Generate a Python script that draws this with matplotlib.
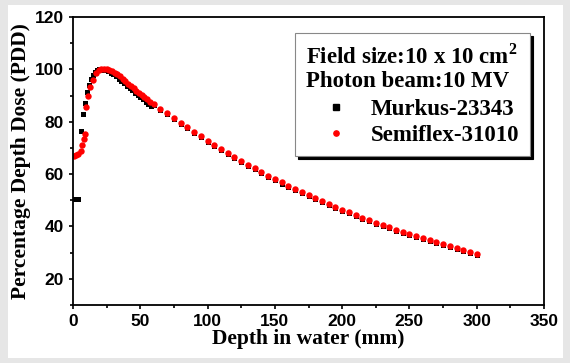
import matplotlib
matplotlib.use("Agg")
import matplotlib.pyplot as plt
from matplotlib.patches import Rectangle
from matplotlib.lines import Line2D

# Semiflex-31010 (red circles)
semiflex_depth = [1, 2, 4, 6, 7, 8, 9, 10, 11.5, 13, 15, 17, 19, 21, 23,
                  25, 27, 29, 31, 33, 35, 37, 39, 41, 43, 45, 47, 49, 51, 53, 55, 57,
                  60, 65, 70, 75, 80, 85, 90, 95, 100, 105, 110, 115, 120, 125,
                  130, 135, 140, 145, 150, 155, 160, 165, 170, 175, 180, 185, 190,
                  195, 200, 205, 210, 215, 220, 225, 230, 235, 240, 245, 250, 255,
                  260, 265, 270, 275, 280, 285, 290, 295, 300]
semiflex_pdd = [67.0, 67.2, 67.8, 69.0, 71.0, 73.5, 75.5, 85.5, 89.8, 93.4, 96.0, 98.5, 99.6, 100.0, 100.0,
                100.0, 99.8, 99.4, 98.8, 98.1, 97.3, 96.4, 95.5, 94.6, 93.7, 92.8, 91.9, 91.0, 90.1, 89.3, 88.5, 87.7,
                86.6, 84.9, 83.3, 81.4, 79.6, 77.9, 76.1, 74.4, 72.8, 71.2, 69.6, 68.0, 66.5, 65.0,
                63.6, 62.2, 60.8, 59.4, 58.1, 56.8, 55.6, 54.3, 53.1, 51.9, 50.8, 49.6, 48.5,
                47.5, 46.4, 45.4, 44.4, 43.4, 42.4, 41.5, 40.6, 39.7, 38.8, 37.9, 37.3, 36.5,
                35.7, 34.8, 34.0, 33.2, 32.4, 31.6, 30.9, 30.1, 29.4]

# Murkus-23343 (black squares)
murkus_depth = [1.5, 3.5, 6, 7.5, 9, 10.5, 12, 13.5, 15, 16.5, 18, 19.5, 21, 22.5,
                24, 26, 28, 30, 32, 34, 36, 38, 40, 42, 44, 46, 48, 50, 52, 54, 56, 58,
                60, 65, 70, 75, 80, 85, 90, 95, 100, 105, 110, 115, 120, 125,
                130, 135, 140, 145, 150, 155, 160, 165, 170, 175, 180, 185, 190,
                195, 200, 205, 210, 215, 220, 225, 230, 235, 240, 245, 250, 255,
                260, 265, 270, 275, 280, 285, 290, 295, 300]
murkus_pdd = [50.5, 50.5, 76.5, 82.8, 87.2, 91.3, 94.2, 96.4, 98.0, 99.1, 99.7, 100.0, 100.0, 99.9,
              99.7, 99.3, 98.8, 98.1, 97.4, 96.5, 95.6, 94.7, 93.8, 92.9, 92.0, 91.1, 90.2, 89.3, 88.5, 87.7, 86.9, 86.1,
              86.2, 84.5, 82.9, 81.0, 79.2, 77.5, 75.7, 74.0, 72.4, 70.8, 69.2, 67.6, 66.1, 64.6,
              63.2, 61.8, 60.4, 59.0, 57.7, 56.4, 55.2, 53.9, 52.7, 51.5, 50.4, 49.2, 48.1,
              47.1, 46.0, 45.0, 44.0, 43.0, 42.0, 41.1, 40.2, 39.3, 38.4, 37.5, 36.9, 36.1,
              35.3, 34.4, 33.6, 32.8, 32.0, 31.2, 30.5, 29.7, 29.0]

x_ticks = [0, 50, 100, 150, 200, 250, 300, 350]
y_ticks = [20, 40, 60, 80, 100, 120]

plt.rcParams['mathtext.fontset'] = 'custom'
plt.rcParams['mathtext.bf'] = 'Liberation Serif:bold'
plt.rcParams['mathtext.rm'] = 'Liberation Serif:bold'

serif = {'family': 'Liberation Serif', 'weight': 'bold'}

fig = plt.figure(figsize=(5.7, 3.63), dpi=100, facecolor='#e6e6e6')
fig.patches.append(Rectangle((8 / 570, 5 / 363), 555 / 570, 353 / 363,
                             transform=fig.transFigure, facecolor='white',
                             edgecolor='none', zorder=-10))

ax = fig.add_axes([73 / 570, 58 / 363, 471 / 570, 288 / 363])
ax.set_facecolor('white')

ax.plot(murkus_depth, murkus_pdd, 's', color='black', markersize=3.6,
        markeredgewidth=0, label='Murkus-23343')
ax.plot(semiflex_depth, semiflex_pdd, 'o', color='#ff0000', markersize=4.6,
        markeredgewidth=0, label='Semiflex-31010')

ax.set_xlim(0, 350)
ax.set_ylim(10, 120)
ax.set_xticks(x_ticks)
ax.set_yticks(y_ticks)
ax.set_xticks(range(25, 350, 50), minor=True)
ax.set_yticks(range(10, 120, 20), minor=True)
ax.tick_params(which='major', direction='out', length=3, width=1.2)
ax.tick_params(which='minor', direction='out', length=2.5, width=1.2)
for lab in ax.get_xticklabels() + ax.get_yticklabels():
    lab.set_fontfamily('Liberation Sans')
    lab.set_fontweight('bold')
    lab.set_fontsize(12.5)
for s in ax.spines.values():
    s.set_linewidth(1.3)

ax.set_xlabel('Depth in water (mm)', fontdict=serif, fontsize=15.5, labelpad=0)
ax.set_ylabel('Percentage Depth Dose (PDD)', fontdict=serif, fontsize=15.5, labelpad=3)

handles = [Line2D([], [], marker='s', linestyle='none', color='black', markersize=3.8),
           Line2D([], [], marker='o', linestyle='none', color='#ff0000', markersize=3.8)]
leg = ax.legend(handles, ['Murkus-23343', 'Semiflex-31010'],
                title='Field size:10 x 10 cm$^{\\mathbf{2}}$\nPhoton beam:10 MV',
                loc='upper right', bbox_to_anchor=(0.970, 0.944), borderaxespad=0,
                prop={'family': 'Liberation Serif', 'weight': 'bold', 'size': 16.5},
                title_fontproperties={'family': 'Liberation Serif', 'weight': 'bold', 'size': 16.5},
                alignment='left', frameon=True, fancybox=False,
                shadow={'color': 'black', 'alpha': 1},
                edgecolor='#888888', borderpad=0.45, labelspacing=0.2,
                handletextpad=0.25, handlelength=2.6)
leg.get_frame().set_linewidth(0.8)
leg._legend_box.sep = 5

fig.savefig('out.png', dpi=100, facecolor=fig.get_facecolor())
